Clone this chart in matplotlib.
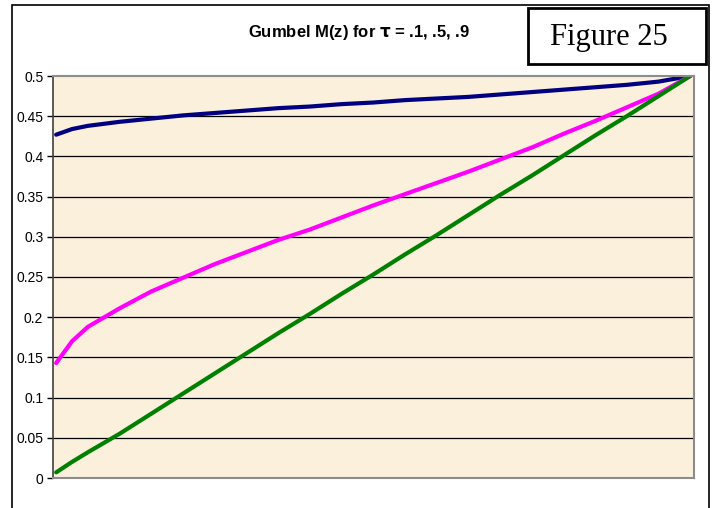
import numpy as np
import matplotlib.pyplot as plt
from matplotlib.patches import Rectangle

# Position along the curve (0 = first point, 1 = last point)
pos = [0, 0.025, 0.05, 0.1, 0.15, 0.2, 0.25, 0.3, 0.35, 0.4, 0.45, 0.5,
       0.55, 0.6, 0.65, 0.7, 0.75, 0.8, 0.85, 0.9, 0.95, 1.0]

# M(z) for each tau
m_tau_1 = [0.427, 0.434, 0.438, 0.443, 0.447, 0.451, 0.454, 0.457, 0.460, 0.462, 0.465,
           0.467, 0.470, 0.472, 0.474, 0.477, 0.480, 0.483, 0.486, 0.489, 0.493, 0.500]
m_tau_5 = [0.143, 0.170, 0.188, 0.211, 0.232, 0.249, 0.266, 0.281, 0.296, 0.309, 0.324,
           0.339, 0.353, 0.367, 0.381, 0.396, 0.411, 0.428, 0.444, 0.461, 0.478, 0.500]
m_tau_9 = [0.007, 0.020, 0.032, 0.055, 0.080, 0.105, 0.130, 0.155, 0.180, 0.204, 0.229,
           0.253, 0.278, 0.302, 0.327, 0.352, 0.376, 0.401, 0.426, 0.450, 0.475, 0.500]

yticks = [0, 0.05, 0.1, 0.15, 0.2, 0.25, 0.3, 0.35, 0.4, 0.45, 0.5]
ytick_labels = ['0', '0.05', '0.1', '0.15', '0.2', '0.25', '0.3', '0.35', '0.4', '0.45', '0.5']

W, H = 716, 508
fig = plt.figure(figsize=(W / 100, H / 100), dpi=100)
fig.patch.set_facecolor('white')

# outer chart border (runs off the bottom of the image)
fig.add_artist(Rectangle((12 / W, -0.01), (709 - 12) / W, (H - 5) / H + 0.01,
                         transform=fig.transFigure, fill=False, edgecolor='black', lw=1.2))

ax = fig.add_axes([53 / W, (H - 478) / H, (694 - 53) / W, (478 - 76) / H])
ax.set_facecolor('#FAF0DC')

ax.plot(pos, m_tau_1, color='#000080', lw=3, solid_capstyle='round')
ax.plot(pos, m_tau_5, color='#FF00FF', lw=3, solid_capstyle='round')
ax.plot(pos, m_tau_9, color='#008000', lw=3, solid_capstyle='round')

ax.set_xlim(-0.005, 1.006)
ax.set_ylim(0, 0.5)
ax.set_xticks([])
ax.set_yticks(yticks)
ax.set_yticklabels(ytick_labels, fontfamily='Liberation Sans', fontsize=10)
ax.tick_params(axis='y', direction='out', length=4, width=1, pad=3, color='black')
for y in yticks[1:-1]:
    ax.axhline(y, color='black', lw=0.9, zorder=1)

for side in ['top', 'right', 'bottom']:
    ax.spines[side].set_color('#8C8C8C')
    ax.spines[side].set_linewidth(1.5)
ax.spines['left'].set_color('#404040')
ax.spines['left'].set_linewidth(1.2)

fig.text(359 / W, 1 - 33 / H, r'Gumbel M(z) for $\mathbf{\tau}$ = .1, .5, .9',
         ha='center', va='center', fontsize=12, fontweight='bold',
         family='Liberation Sans')

# "Figure 25" box
fig.add_artist(Rectangle((528 / W, 1 - 64 / H), (706 - 528) / W, (64 - 8) / H,
                         transform=fig.transFigure, fill=True, facecolor='white',
                         edgecolor='black', lw=2))
fig.text(609 / W, 1 - 37 / H, 'Figure 25', ha='center', va='center',
         fontsize=22, family='Liberation Serif')

plt.savefig('out.png', dpi=100)
